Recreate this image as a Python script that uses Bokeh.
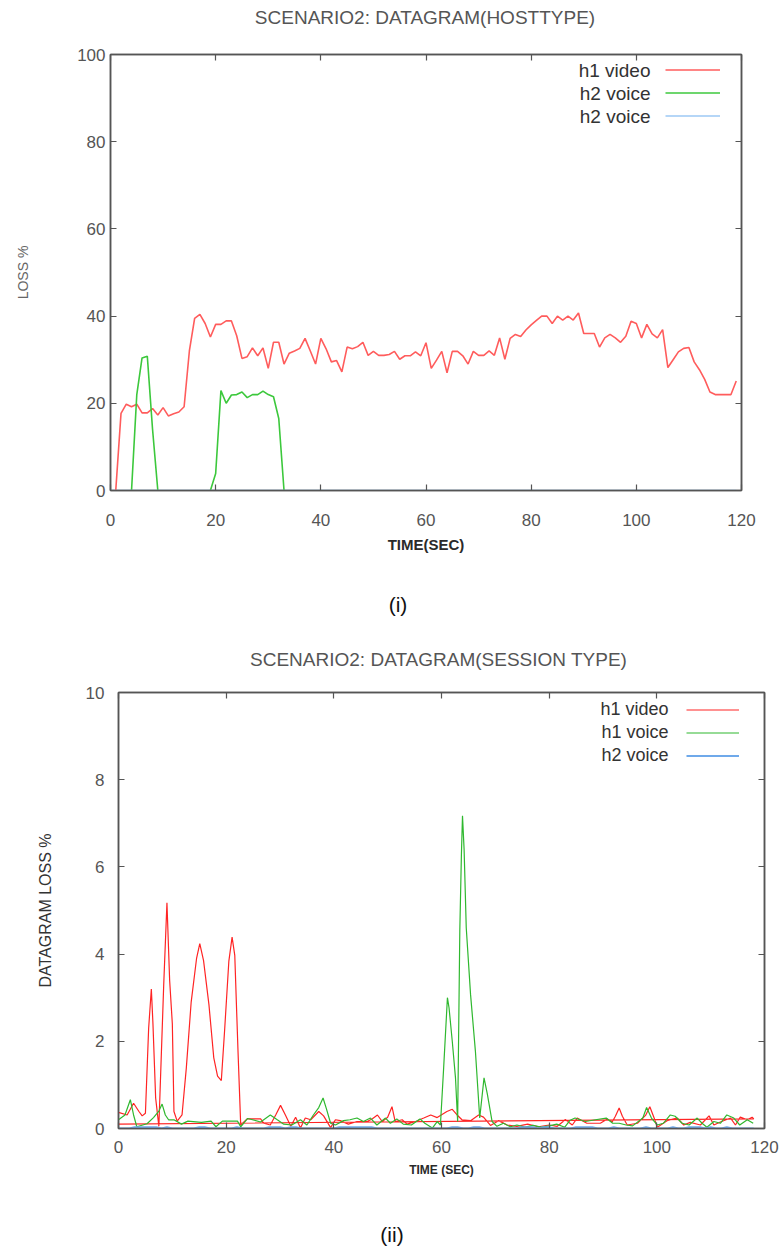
from bokeh.plotting import figure
from bokeh.models import (LinearAxis, Range1d, Title, Legend, LegendItem, Label, FixedTicker, Div)
from bokeh.layouts import column, row
from bokeh.embed import file_html
from bokeh.resources import INLINE

NAN = float("nan")

# ---------------- (i) loss per host type ----------------
host_x_ticks = [0, 20, 40, 60, 80, 100, 120]
host_y_ticks = [0, 20, 40, 60, 80, 100]

host_time = list(range(1, 120))
host_h1_video = [
    0.0, 17.7, 19.8, 19.2, 19.8, 17.8, 17.8, 18.8, 17.3, 19.0,
    17.1, 17.6, 18.0, 19.2, 32.0, 39.5, 40.4, 38.3, 35.2, 38.1,
    38.1, 38.9, 38.9, 35.5, 30.3, 30.7, 32.7, 30.9, 32.7, 28.0,
    34.0, 34.0, 29.0, 31.5, 32.0, 32.6, 34.9, 32.0, 29.0, 34.9,
    32.5, 29.5, 29.8, 27.2, 32.9, 32.5, 33.0, 34.0, 31.0, 31.9,
    31.0, 31.0, 31.2, 31.9, 30.1, 30.9, 30.9, 31.8, 30.9, 33.9,
    28.0, 29.9, 31.9, 27.0, 31.9, 31.9, 30.9, 29.0, 31.9, 31.0,
    31.0, 32.0, 31.0, 35.0, 30.1, 34.9, 35.8, 35.3, 36.8, 38.0,
    39.0, 40.0, 40.0, 38.3, 40.0, 39.1, 40.0, 39.1, 40.7, 36.0,
    36.0, 36.0, 32.9, 35.0, 35.8, 35.0, 34.0, 35.4, 38.8, 38.3,
    35.0, 38.1, 35.9, 35.0, 36.9, 28.2, 30.0, 31.8, 32.6, 32.8,
    29.5, 27.7, 25.5, 22.6, 22.0, 22.0, 22.0, 22.0, 25.1,
]

host_h2_voice_time = [4, 5, 6, 7, 8, 9, NAN,
                      19, 20, 21, 22, 23, 24, 25, 26, 27, 28, 29, 30, 31, 32, 33]
host_h2_voice = [0.0, 22.0, 30.4, 30.8, 14.0, 0.0, NAN,
                 0.0, 3.9, 22.9, 20.0, 21.9, 22.0, 22.6, 21.3, 22.0, 22.0, 22.8, 22.0, 21.5, 16.5, 0.0]

host_h2_voice_b_time = [0, 119]
host_h2_voice_b = [0.0, 0.0]

host_labels = ["h1 video", "h2 voice", "h2 voice"]

# ---------------- (ii) loss per session type ----------------
sess_x_ticks = [0, 20, 40, 60, 80, 100, 120]
sess_y_ticks = [0, 2, 4, 6, 8, 10]

sess_h1_video_time = [
    0, 1.6, 2.8, 3.8, 4.4, 5.0, 5.6, 6.1, 6.4, 6.9, 7.5, 8.4, 9.0, 9.5, 10.0, 10.3,
    10.9, 11.8, 12.6, 13.5, 14.5, 15.1, 15.8, 16.8, 17.7, 18.4, 19.1, 19.7, 20.5, 21.1,
    21.6, 22.2, 22.7, 23.9, 26.4, 27.0, 28.2, 29.2, 30.1, 31.0, 32.0, 32.9, 33.8, 34.7,
    35.7, 37.2, 38.1, 39.4, 40.3, 41.2, 42.7, 44.3, 46.2, 47.1, 48.1, 49.0, 50.0, 50.8,
    51.4, 52.7, 53.6, 55.2, 56.7, 58.0, 59.2, 61.0, 62.0, 62.9, 63.8, 65.4, 66.9, 67.8,
    69.1, 70.6, 72.2, 74.0, 76.0, 78.0, 80.0, 81.5, 83.0, 84.3, 85.2, 87.0, 89.5, 90.8,
    91.7, 92.3, 93.0, 93.6, 94.5, 96.4, 97.9, 98.7, 99.5, 100.1, 101.9, 103.8, 105.0,
    106.2, 108.1, 109.7, 110.6, 111.8, 113.7, 114.6, 115.5, 116.8, 117.7, 118.0, 0.0,
]
sess_h1_video = [
    0.37, 0.31, 0.58, 0.39, 0.29, 0.35, 2.30, 3.20, 2.40, 0.70, 0.05, 3.30, 5.18, 3.40, 2.40, 0.39,
    0.17, 0.31, 1.39, 2.90, 3.90, 4.24, 3.85, 2.84, 1.62, 1.20, 1.10, 2.23, 3.84, 4.39,
    3.97, 1.77, 0.08, 0.22, 0.22, 0.12, 0.08, 0.31, 0.53, 0.31, 0.05, 0.26, 0.01, 0.24,
    0.20, 0.39, 0.29, 0.02, 0.20, 0.18, 0.10, 0.16, 0.16, 0.22, 0.31, 0.16, 0.26, 0.50,
    0.16, 0.20, 0.10, 0.16, 0.24, 0.31, 0.25, 0.39, 0.44, 0.31, 0.20, 0.18, 0.31, 0.26,
    0.07, 0.18, 0.08, 0.05, 0.10, 0.04, 0.08, 0.05, 0.20, 0.08, 0.24, 0.12, 0.12, 0.22,
    0.15, 0.28, 0.47, 0.28, 0.08, 0.12, 0.30, 0.50, 0.24, 0.03, 0.18, 0.24, 0.08,
    0.14, 0.08, 0.29, 0.08, 0.15, 0.24, 0.08, 0.26, 0.20, 0.26, 0.22, 0.10,
]

sess_h1_voice_time = [
    0, 1.2, 2.2, 2.8, 3.4, 5.3, 6.5, 7.5, 8.1, 8.7, 9.3, 10.3, 11.7, 12.9, 15.4, 17.2,
    18.1, 19.3, 22.1, 22.7, 24.0, 26.4, 28.2, 29.5, 30.7, 32.2, 33.8, 35.0, 36.2, 37.2,
    38.0, 38.6, 39.4, 40.3, 41.8, 43.0, 44.3, 45.5, 46.8, 48.0, 49.6, 50.5, 51.7, 52.9,
    54.4, 56.0, 56.9, 58.3, 59.2, 59.8, 60.4, 61.1, 61.4, 62.0, 62.6, 63.0, 63.4, 63.7,
    63.9, 64.2, 64.6, 65.4, 66.3, 67.1, 67.9, 68.5, 69.4, 70.3, 71.5, 72.8, 74.0, 75.5,
    77.0, 78.5, 80.0, 81.4, 82.9, 83.9, 84.8, 86.7, 88.6, 90.6, 91.8, 93.0, 94.3, 95.5,
    97.4, 98.1, 99.0, 100.1, 101.2, 102.5, 103.4, 104.7, 106.0, 107.5, 108.4, 109.3,
    110.6, 111.8, 113.0, 114.3, 115.4, 116.8, 117.9,
]
sess_h1_voice = [
    0.20, 0.31, 0.66, 0.31, 0.04, 0.11, 0.25, 0.40, 0.56, 0.31, 0.20, 0.20, 0.10, 0.17, 0.14, 0.17,
    0.04, 0.17, 0.17, 0.04, 0.23, 0.15, 0.31, 0.20, 0.10, 0.08, 0.20, 0.08, 0.31, 0.48,
    0.70, 0.46, 0.12, 0.08, 0.18, 0.20, 0.24, 0.16, 0.24, 0.08, 0.24, 0.12, 0.22, 0.10,
    0.08, 0.22, 0.12, 0.01, 0.16, 0.08, 1.39, 3.00, 2.77, 2.00, 1.16, 0.16, 4.53, 6.29,
    7.17, 6.40, 4.60, 3.07, 1.77, 0.24, 1.16, 0.80, 0.16, 0.05, 0.12, 0.04, 0.08, 0.03,
    0.07, 0.03, 0.06, 0.10, 0.03, 0.19, 0.24, 0.16, 0.20, 0.24, 0.12, 0.12, 0.08, 0.06,
    0.24, 0.48, 0.24, 0.08, 0.12, 0.31, 0.28, 0.12, 0.08, 0.24, 0.12, 0.03,
    0.16, 0.12, 0.31, 0.24, 0.08, 0.20, 0.12,
]

sess_h2_voice_time = list(range(0, 119))
sess_h2_voice = [
    0, 0, 0, .03, .03, .03, .03, .03, 0, .03,
    0, 0, 0, 0, 0, .03, .03, 0, 0, 0,
    0, 0, .03, 0, 0, 0, 0, 0, .03, .03,
    .03, 0, .03, .03, 0, 0, 0, 0, 0, 0,
    0, .03, .03, .03, .03, .03, .03, .03, 0, 0,
    0, 0, 0, 0, 0, 0, 0, 0, 0, 0,
    0, 0, .03, .03, 0, 0, .03, .03, 0, 0,
    0, 0, 0, 0, 0, .03, .03, .03, 0, .03,
    .03, 0, 0, 0, 0, .03, .03, .03, .03, 0,
    0, 0, .03, 0, 0, 0, 0, 0, .03, 0,
    0, 0, 0, .03, 0, 0, .03, .03, .03, 0,
    .03, 0, 0, .03, 0, 0, 0, 0, 0,
]

sess_labels = ["h1 video", "h1 voice", "h2 voice"]

FONT = "Liberation Sans"
FRAME = "#555555"
TICK_TEXT = "#555555"


def style_axis(ax, tick_size, standoff):
    ax.axis_line_color = FRAME
    ax.axis_line_width = 1.5
    ax.major_tick_line_color = FRAME
    ax.major_tick_line_width = 1.2
    ax.major_tick_in = 6
    ax.major_tick_out = 0
    ax.minor_tick_line_color = None
    ax.major_label_text_font = FONT
    ax.major_label_text_font_size = tick_size
    ax.major_label_text_color = TICK_TEXT
    ax.major_label_standoff = standoff


def frame_axes(p, xticks, yticks, tick_size, x_standoff, y_standoff):
    """Gnuplot-like box: inward ticks on all four sides."""
    xax, yax = p.below[0], p.left[0]
    style_axis(xax, tick_size, x_standoff)
    style_axis(yax, tick_size, y_standoff)
    xax.ticker = FixedTicker(ticks=xticks)
    yax.ticker = FixedTicker(ticks=yticks)

    for side, ticks in (("right", yticks), ("above", xticks)):
        ax = LinearAxis(ticker=FixedTicker(ticks=ticks),
                        major_label_overrides={t: "" for t in ticks},
                        axis_line_color=FRAME, axis_line_width=1.5,
                        major_tick_line_color=FRAME, major_tick_line_width=1.2,
                        major_tick_in=6, major_tick_out=0,
                        minor_tick_line_color=None,
                        major_label_standoff=0,
                        major_label_text_font_size="1px")
        p.add_layout(ax, side)
    p.xgrid.visible = False
    p.ygrid.visible = False
    p.outline_line_color = FRAME
    p.outline_line_width = 1.5
    return xax, yax


def key_legend(p, renderers, labels, left, bottom, glyph_w, row_h, gap,
               text_right, rows_y, text_size):
    items = [LegendItem(label=" ", renderers=[r]) for r in renderers]
    lg = Legend(items=items, location=(left, bottom), orientation="vertical",
                glyph_width=glyph_w, glyph_height=row_h, spacing=gap,
                padding=0, margin=0, label_width=0, label_standoff=0,
                label_height=row_h, label_text_font_size="1px",
                border_line_color=None, background_fill_alpha=0)
    p.add_layout(lg)
    for text, y in zip(labels, rows_y):
        p.add_layout(Label(x=text_right, y=y, x_units="screen", y_units="screen",
                           text=text, text_align="right", text_baseline="middle",
                           text_font=FONT, text_font_size=text_size,
                           text_color="#333333"))


def x_title(text, size, offset):
    return Title(text=text, align="center", text_font=FONT, text_font_size=size,
                 text_font_style="bold", text_color="#2a2a2a", offset=offset)


def text_strip(text, height, pad_top, pad_left, size, line_h, color):
    html = ('<div style="box-sizing:border-box;width:781px;height:%dpx;'
            'padding-top:%dpx;padding-left:%dpx;text-align:center;white-space:nowrap;'
            'font-family:\'Liberation Sans\';font-size:%s;line-height:%dpx;'
            'color:%s">%s</div>' % (height, pad_top, pad_left, size, line_h, color, text))
    return Div(text=html, width=781, height=height, margin=0)


# ---------------- figure (i) ----------------
p1 = figure(frame_width=631, frame_height=436,
            min_border_left=110, min_border_right=40,
            min_border_top=14, min_border_bottom=71,
            x_range=Range1d(0, 120), y_range=Range1d(0, 100),
            output_backend="svg", toolbar_location=None,
            background_fill_color="white", border_fill_color="white")

x1, y1 = frame_axes(p1, host_x_ticks, host_y_ticks, "17px", 23, 5)
y1.axis_label = "LOSS %"
y1.axis_label_text_font = FONT
y1.axis_label_text_font_size = "14px"
y1.axis_label_text_font_style = "normal"
y1.axis_label_text_color = "#666666"
y1.axis_label_standoff = 43

r_v = p1.line(host_time, host_h1_video, line_color="#ff5c5c", line_width=1.6)
r_g = p1.line(host_h2_voice_time, host_h2_voice, line_color="#3cc83c", line_width=1.6)
r_b = p1.line(host_h2_voice_b_time, host_h2_voice_b, line_color="#9cc9f5", line_width=1.6)

key_legend(p1, [r_v, r_g, r_b], host_labels, left=555, bottom=364, glyph_w=55,
           row_h=21, gap=2, text_right=540, rows_y=[420.5, 397.5, 374.5],
           text_size="19px")

p1.add_layout(x_title("TIME(SEC)", "15px", -21), "below")

# ---------------- figure (ii) ----------------
p2 = figure(frame_width=646, frame_height=436,
            min_border_left=118, min_border_right=17,
            min_border_top=22, min_border_bottom=50,
            x_range=Range1d(0, 120), y_range=Range1d(0, 10),
            output_backend="svg", toolbar_location=None,
            background_fill_color="white", border_fill_color="white")

x2, y2 = frame_axes(p2, sess_x_ticks, sess_y_ticks, "17px", 12, 14)
y2.axis_label = "DATAGRAM LOSS %"
y2.axis_label_text_font = FONT
y2.axis_label_text_font_size = "16px"
y2.axis_label_text_font_style = "normal"
y2.axis_label_text_color = "#333333"
y2.axis_label_standoff = 29

s_v = p2.line(sess_h1_video_time, sess_h1_video, line_color="#ff2424", line_width=1.2)
s_g = p2.line(sess_h1_voice_time, sess_h1_voice, line_color="#2fb82f", line_width=1.2)
s_b = p2.line(sess_h2_voice_time, sess_h2_voice, line_color="#6fa9ea", line_width=2)

key_legend(p2, [s_v, s_g, s_b], sess_labels, left=568, bottom=362, glyph_w=53,
           row_h=21, gap=2, text_right=550, rows_y=[419.5, 396.5, 373.5],
           text_size="18px")

p2.add_layout(x_title("TIME (SEC)", "12px", -13), "below")

page = column(
    text_strip("SCENARIO2: DATAGRAM(HOSTTYPE)", 40, 7, 69, "19px", 22, "#555555"),
    row(p1),
    text_strip("(i)", 69, 32, 15, "21px", 24, "#111111"),
    text_strip("SCENARIO2: DATAGRAM(SESSION TYPE)", 40, 19, 96, "19px", 22, "#555555"),
    row(p2),
    text_strip("(ii)", 76, 42, 3, "21px", 24, "#111111"),
    spacing=0,
)
open("out.html", "w").write(file_html(page, INLINE))
